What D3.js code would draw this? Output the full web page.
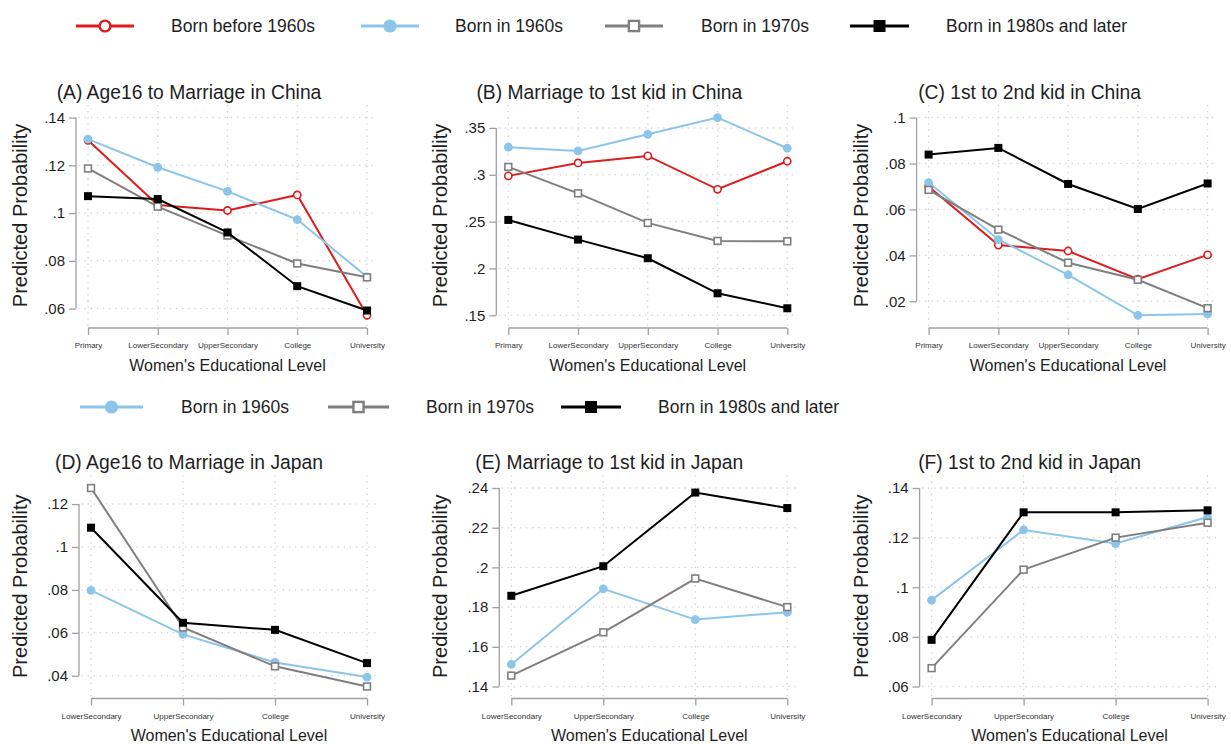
<!DOCTYPE html>
<html>
<head>
<meta charset="utf-8">
<script src="https://cdn.jsdelivr.net/npm/d3@7"></script>
<style>
  html, body { margin: 0; padding: 0; background: #fff; }
  svg { display: block; font-family: "Liberation Sans", Arial, sans-serif; }
</style>
</head>
<body>
<svg id="chart" width="1231" height="744"></svg>
<script>
// Education categories
const chinaLevels = ["Primary", "LowerSecondary", "UpperSecondary", "College", "University"];
const japanLevels = ["LowerSecondary", "UpperSecondary", "College", "University"];

// Cohorts
const cohortNames = ["Born before 1960s", "Born in 1960s", "Born in 1970s", "Born in 1980s and later"];

// (A) Age16 to marriage, China — one array per cohort
const chinaMarriagePre60 = [0.1305, 0.1034, 0.1011, 0.1076, 0.0572];
const chinaMarriage60s   = [0.1310, 0.1192, 0.1091, 0.0973, 0.0733];
const chinaMarriage70s   = [0.1187, 0.1027, 0.0906, 0.0789, 0.0731];
const chinaMarriage80s   = [0.1071, 0.1059, 0.0919, 0.0694, 0.0592];

// (B) Marriage to 1st kid, China
const chinaFirstPre60 = [0.2988, 0.3126, 0.3201, 0.2845, 0.3144];
const chinaFirst60s   = [0.3294, 0.3254, 0.3432, 0.3610, 0.3283];
const chinaFirst70s   = [0.3084, 0.2802, 0.2486, 0.2294, 0.2290];
const chinaFirst80s   = [0.2518, 0.2308, 0.2109, 0.1735, 0.1575];

// (C) 1st to 2nd kid, China
const chinaSecondPre60 = [0.0700, 0.0445, 0.0419, 0.0296, 0.0402];
const chinaSecond60s   = [0.0717, 0.0469, 0.0315, 0.0139, 0.0145];
const chinaSecond70s   = [0.0685, 0.0512, 0.0368, 0.0294, 0.0170];
const chinaSecond80s   = [0.0839, 0.0868, 0.0711, 0.0602, 0.0713];

// (D) Age16 to marriage, Japan
const japanMarriage60s = [0.0798, 0.0593, 0.0462, 0.0394];
const japanMarriage70s = [0.1275, 0.0625, 0.0444, 0.0350];
const japanMarriage80s = [0.1090, 0.0647, 0.0614, 0.0459];

// (E) Marriage to 1st kid, Japan
const japanFirst60s = [0.1511, 0.1892, 0.1737, 0.1774];
const japanFirst70s = [0.1455, 0.1673, 0.1944, 0.1800];
const japanFirst80s = [0.1857, 0.2006, 0.2377, 0.2299];

// (F) 1st to 2nd kid, Japan
const japanSecond60s = [0.0948, 0.1231, 0.1176, 0.1283];
const japanSecond70s = [0.0674, 0.1071, 0.1200, 0.1260];
const japanSecond80s = [0.0788, 0.1302, 0.1302, 0.1310];

// Y-axis ticks per panel
const ticksA = [0.06, 0.08, 0.10, 0.12, 0.14];
const ticksB = [0.15, 0.20, 0.25, 0.30, 0.35];
const ticksC = [0.02, 0.04, 0.06, 0.08, 0.10];
const ticksD = [0.04, 0.06, 0.08, 0.10, 0.12];
const ticksE = [0.14, 0.16, 0.18, 0.20, 0.22, 0.24];
const ticksF = [0.06, 0.08, 0.10, 0.12, 0.14];

const panelTitles = [
  "(A) Age16 to Marriage in China", "(B) Marriage to 1st kid in China", "(C) 1st to 2nd kid in China",
  "(D) Age16 to Marriage in Japan", "(E) Marriage to 1st kid in Japan", "(F) 1st to 2nd kid in Japan"
];
const yTitle = "Predicted Probability";
const xTitle = "Women's Educational Level";

// Visual style per cohort
const styles = [
  { color: "#dd1c1c", shape: "circle", filled: false },
  { color: "#8cc5ea", shape: "circle", filled: true },
  { color: "#7f7f7f", shape: "square", filled: false },
  { color: "#000000", shape: "square", filled: true }
];

const panels = [
  { title: panelTitles[0], levels: chinaLevels, ticks: ticksA, series: [[0, chinaMarriagePre60], [1, chinaMarriage60s], [2, chinaMarriage70s], [3, chinaMarriage80s]], col: 0, row: 0 },
  { title: panelTitles[1], levels: chinaLevels, ticks: ticksB, series: [[0, chinaFirstPre60], [1, chinaFirst60s], [2, chinaFirst70s], [3, chinaFirst80s]], col: 1, row: 0 },
  { title: panelTitles[2], levels: chinaLevels, ticks: ticksC, series: [[0, chinaSecondPre60], [1, chinaSecond60s], [2, chinaSecond70s], [3, chinaSecond80s]], col: 2, row: 0 },
  { title: panelTitles[3], levels: japanLevels, ticks: ticksD, series: [[1, japanMarriage60s], [2, japanMarriage70s], [3, japanMarriage80s]], col: 0, row: 1 },
  { title: panelTitles[4], levels: japanLevels, ticks: ticksE, series: [[1, japanFirst60s], [2, japanFirst70s], [3, japanFirst80s]], col: 1, row: 1 },
  { title: panelTitles[5], levels: japanLevels, ticks: ticksF, series: [[1, japanSecond60s], [2, japanSecond70s], [3, japanSecond80s]], col: 2, row: 1 }
];

// Layout
const colStep = 420.3;
const rows = [
  { valTop: 117.6, valBottom: 315.3, axisY: 328, catLeft: 88, titleY: 92, tickLabelY: 345, xTitleY: 365 },
  { valTop: 488, valBottom: 686.5, axisY: 698.5, catLeft: 91, titleY: 462, tickLabelY: 716, xTitleY: 735 }
];
const catRight = 367;
const textColor = "#1e1e1e";
const axisColor = "#a0a0a0";
const gridColor = "#d2d2d2";

const fmt = v => {
  let s = d3.format(".2f")(v).replace(/0+$/, "").replace(/\.$/, "");
  return s.replace(/^0\./, ".");
};

const svg = d3.select("#chart");

function marker(g, st, cx, cy, size) {
  if (st.shape === "circle") {
    g.append("circle")
      .attr("cx", cx).attr("cy", cy)
      .attr("r", st.filled ? size * 0.55 : size * 0.45)
      .attr("fill", st.filled ? st.color : "#fff")
      .attr("stroke", st.color)
      .attr("stroke-width", st.filled ? 0 : size * 0.2);
  } else {
    const s = st.filled ? size : size * 0.85;
    g.append("rect")
      .attr("x", cx - s / 2).attr("y", cy - s / 2)
      .attr("width", s).attr("height", s)
      .attr("fill", st.filled ? st.color : "#fff")
      .attr("stroke", st.color)
      .attr("stroke-width", st.filled ? 0 : size * 0.2);
  }
}

panels.forEach(p => {
  const r = rows[p.row];
  const dx = p.col * colStep;
  const x0 = r.catLeft + dx, x1 = catRight + dx;
  const x = d3.scalePoint().domain(p.levels).range([x0, x1]);
  const allVals = p.ticks.concat(...p.series.map(s => s[1]));
  const y = d3.scaleLinear().domain(d3.extent(allVals)).range([r.valBottom, r.valTop]);

  const g = svg.append("g");

  // plot-region limits for the dotted grid
  const gx0 = x0 - 9, gx1 = x1 + 9, gy0 = r.valTop - 12, gy1 = r.valBottom + 10;

  g.append("g").selectAll("line").data(p.ticks).join("line")
    .attr("x1", gx0).attr("x2", gx1)
    .attr("y1", d => y(d)).attr("y2", d => y(d))
    .attr("stroke", gridColor).attr("stroke-width", 1.5)
    .attr("stroke-dasharray", "0.1,6").attr("stroke-linecap", "round");
  g.append("g").selectAll("line").data(p.levels).join("line")
    .attr("x1", d => x(d)).attr("x2", d => x(d))
    .attr("y1", gy0).attr("y2", gy1)
    .attr("stroke", gridColor).attr("stroke-width", 1.5)
    .attr("stroke-dasharray", "0.1,6").attr("stroke-linecap", "round");

  // Y axis
  const yAxisX = x0 - 12;
  const yAxis = d3.axisLeft(y).tickValues(p.ticks).tickFormat(fmt).tickSize(7).tickPadding(4);
  const ya = g.append("g").attr("transform", `translate(${yAxisX},0)`).call(yAxis);
  ya.select(".domain").remove();
  ya.append("line").attr("x1", 0).attr("x2", 0)
    .attr("y1", y(d3.max(p.ticks))).attr("y2", y(d3.min(p.ticks)))
    .attr("stroke", axisColor).attr("stroke-width", 1.3);
  ya.selectAll(".tick line").attr("stroke", axisColor).attr("stroke-width", 1.3);
  ya.selectAll(".tick text").attr("fill", textColor)
    .style("font-size", "15px").style("font-family", "'Liberation Sans', Arial, sans-serif");

  // X axis
  const xAxis = d3.axisBottom(x).tickSize(7).tickPadding(5);
  const xa = g.append("g").attr("transform", `translate(0,${r.axisY})`).call(xAxis);
  xa.select(".domain").remove();
  xa.append("line").attr("x1", x0).attr("x2", x1).attr("y1", 0).attr("y2", 0)
    .attr("stroke", axisColor).attr("stroke-width", 1.3);
  xa.selectAll(".tick line").attr("stroke", axisColor).attr("stroke-width", 1.3);
  xa.selectAll(".tick text").attr("fill", "#333").attr("y", r.tickLabelY - r.axisY).attr("dy", "0.35em")
    .style("font-size", "8px").style("font-family", "'Liberation Sans', Arial, sans-serif");

  // Titles
  g.append("text").attr("x", 189 + dx).attr("y", r.titleY).attr("dy", "0.35em")
    .attr("text-anchor", "middle").attr("fill", textColor).style("font-size", "19.3px").text(p.title);
  g.append("text").attr("transform", `translate(${20 + dx},${(gy0 + gy1) / 2}) rotate(-90)`)
    .attr("dy", "0.35em").attr("text-anchor", "middle").attr("fill", textColor)
    .style("font-size", "20px").text(yTitle);
  g.append("text").attr("x", (x0 + x1) / 2).attr("y", r.xTitleY).attr("dy", "0.35em")
    .attr("text-anchor", "middle").attr("fill", textColor).style("font-size", "16px").text(xTitle);

  // Series lines then markers
  const line = d3.line().x((d, i) => x(p.levels[i])).y(d => y(d));
  p.series.forEach(([k, vals]) => {
    const st = styles[k];
    g.append("path").datum(vals).attr("d", line)
      .attr("fill", "none").attr("stroke", st.color).attr("stroke-width", 2);
    vals.forEach((v, i) => marker(g, st, x(p.levels[i]), y(v), 8));
  });
});

// Legends
function legend(items, yPos) {
  const lg = svg.append("g");
  items.forEach(it => {
    const st = styles[it.k];
    lg.append("line").attr("x1", it.x0).attr("x2", it.x1).attr("y1", yPos).attr("y2", yPos)
      .attr("stroke", st.color).attr("stroke-width", 3);
    marker(lg, st, (it.x0 + it.x1) / 2, yPos, 12);
    lg.append("text").attr("x", it.tx).attr("y", yPos).attr("dy", "0.35em")
      .attr("fill", textColor).style("font-size", "17.5px").text(cohortNames[it.k]);
  });
}
legend([
  { k: 0, x0: 76, x1: 134, tx: 171 },
  { k: 1, x0: 361, x1: 419, tx: 455 },
  { k: 2, x0: 605, x1: 663, tx: 701 },
  { k: 3, x0: 850, x1: 909, tx: 946 }
], 26);
legend([
  { k: 1, x0: 80, x1: 143, tx: 181 },
  { k: 2, x0: 328, x1: 389, tx: 426 },
  { k: 3, x0: 561, x1: 621, tx: 658 }
], 407);
</script>
</body>
</html>
